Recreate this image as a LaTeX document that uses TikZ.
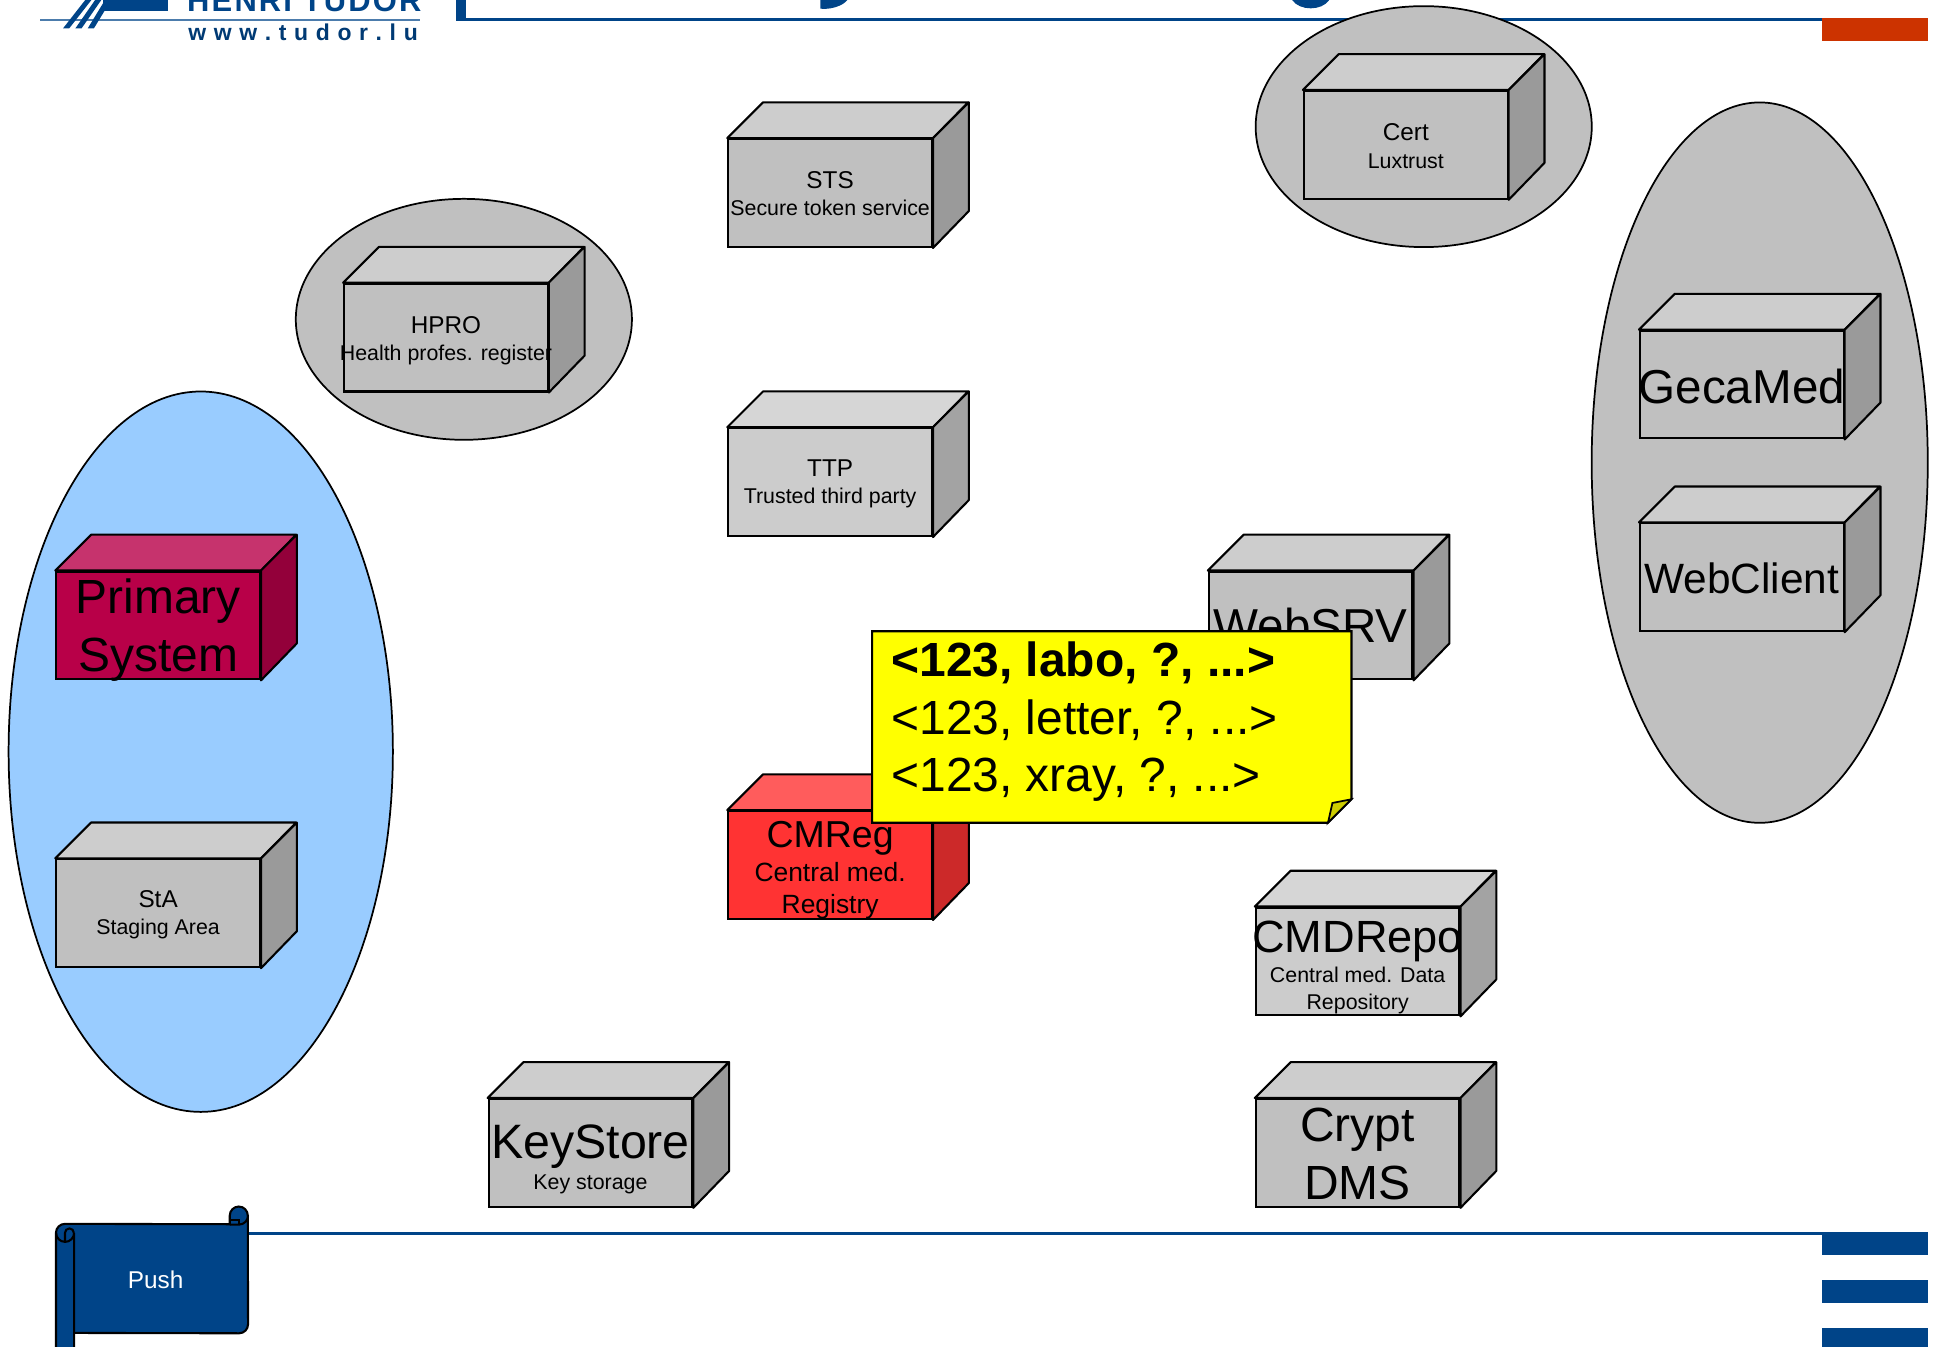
\documentclass[tikz,border=0pt]{standalone}
\usepackage{xcolor}
\usepackage{fontspec}
\setmainfont{Liberation Sans}
\newfontfamily\logowide[LetterSpace=7]{Liberation Sans}
\usetikzlibrary{calc,positioning,shapes.geometric}
\definecolor{navy}{HTML}{004488}
\definecolor{rust}{HTML}{CC3300}
\definecolor{greyarea}{HTML}{C0C0C0}
\definecolor{bluearea}{HTML}{99CCFF}
\definecolor{crategrey}{HTML}{C0C0C0}
\definecolor{crateplain}{HTML}{CCCCCC}
\definecolor{crateprimary}{HTML}{B80048}
\definecolor{cratered}{HTML}{FF3333}
\definecolor{notefill}{HTML}{FFFF00}
\definecolor{notefold}{HTML}{CCCC00}
\newcommand{\fs}[1]{\fontsize{#1}{8}\selectfont}
\newcommand{\tightlines}{\fontsize{10}{7.8}\selectfont\lineskiplimit=-100pt\relax}
\newcommand{\crate}[6]{
\node[cratefront,fill=#4] (#1) at (#2+83,#3+44.3) {};
\draw[cratefill,fill=#4!80!white] (#1.north west) -- ++(29,-29) -- ++(166,0) -- (#1.north east) -- cycle;
\draw[cratefill,fill=#4!80!black] (#1.north east) -- ++(29,-29) -- ++(0,88) -- (#1.south east) -- cycle;
\node[cratetext] (#1label) at ($(#1.center)+(0,#5)$) {#6};
}
\begin{document}
\begin{tikzpicture}[x=0.0125cm,y=-0.0125cm]
\tikzset{area/.style = {shape=ellipse,draw,line width=0.5pt,inner sep=0pt}}
\tikzset{cratefront/.style = {shape=rectangle,draw,line width=0.6pt,inner sep=0pt,minimum width=2.06cm,minimum height=1.09cm}}
\tikzset{cratefill/.style = {draw,line width=0.6pt,line join=round}}
\tikzset{cratetext/.style = {align=center,inner sep=0pt,font=\tightlines}}
\tikzset{frame/.style = {fill=navy}}
\useasboundingbox (0,0) rectangle (1568,1089.6);
\clip (0,0) rectangle (1568,1089.6);
% header
\fill[frame] (369,0) rectangle (377,17);
\fill[frame] (369,14.6) rectangle (1475,17);
\fill[rust] (1475,14.6) rectangle (1561,33);
\fill[frame] (664,0) .. controls (672,0) and (678,0) .. (686,0) .. controls (682,5) and (672,8) .. (664,7) -- cycle;
\fill[frame] (1046,0) -- (1076,0) .. controls (1070,9) and (1052,9) .. (1046,0) -- cycle;
% logo
\fill[navy!70!white] (32,15) rectangle (340,17);
\fill[navy] (83,0) rectangle (136,9);
\foreach \i in {0,1,2}
  \fill[navy] (69+\i*8,0) -- (74+\i*8,0) -- (56+\i*10,23) -- (51+\i*10,23) -- cycle;
\node[anchor=base west,inner sep=0pt,text=navy] (logoname) at (151,9) {\fs{8.9}\bfseries\logowide HENRI TUDOR};
\node[anchor=base west,inner sep=0pt,text=navy!85!black] (logourl) at (152,33) {\fs{6.6}\bfseries w\,\,w\,\,w\,\,.\,\,t\,\,u\,\,d\,\,o\,\,r\,\,.\,\,l\,\,u};
% footer
\fill[frame] (195,997) rectangle (1475,999.6);
\foreach \i/\j in {997/1016,1036/1055,1075/1090}
  \fill[frame] (1475,\i) rectangle (1561,\j);
\node[area,fill=bluearea,minimum width=3.8875cm,minimum height=7.2875cm] (staging) at (162.5,608.5) {};
\node[area,fill=greyarea,minimum width=3.4cm,minimum height=2.4375cm] (hproarea) at (375.5,258.5) {};
\node[area,fill=greyarea,minimum width=3.4cm,minimum height=2.4375cm] (certarea) at (1152.5,102.5) {};
\node[area,fill=greyarea,minimum width=3.4cm,minimum height=7.2875cm] (clients) at (1424.5,374.5) {};
\crate{sts}{589}{112}{crategrey}{0.5}{\fs{7}STS\\\fs{6.15}Secure token service}
\crate{hpro}{278}{229}{crategrey}{2.5}{\fs{7}HPRO\\\fs{6.15}Health profes. register}
\crate{cert}{1055}{73}{crategrey}{1}{\fs{7}Cert\\\fs{6.15}Luxtrust}
\crate{ttp}{589}{346}{crateplain}{1.5}{\fs{7}TTP\\\fs{6.15}Trusted third party}
\crate{primary}{45}{462}{crateprimary}{4}{\fs{13.8}Primary\\[8.9pt]\fs{13.8}System}
\crate{sta}{45}{695}{crategrey}{1.5}{\fs{7}StA\\\fs{6.15}Staging Area}
\crate{websrv}{978}{462}{crategrey}{0}{\fs{13.7}WebSRV}
\crate{cmreg}{589}{656}{cratered}{4}{\fs{10.8}CMReg\\[1.8pt]\fs{7.6}Central med.\\[1.4pt]\fs{7.6}Registry}
\crate{cmdrepo}{1016}{734}{crateplain}{5}{\fs{13}CMDRepo\\[0.7pt]\fs{6.15}Central med. Data\\\fs{6.15}Repository}
\crate{keystore}{395}{889}{crategrey}{5}{\fs{13.9}KeyStore\\[1.1pt]\fs{6.15}Key storage}
\crate{crypt}{1016}{889}{crategrey}{1}{\fs{13.8}Crypt\\[8.8pt]\fs{13.8}DMS}
\crate{gecamed}{1327}{267}{crategrey}{1.5}{\fs{13.7}GecaMed}
\crate{webclient}{1327}{423}{crategrey}{1}{\fs{12.2}WebClient}
% note
\draw[fill=notefill,line width=0.6pt] (706,511) -- (1094,511) -- (1094,647) -- (1075,666) -- (706,666) -- cycle;
\draw[fill=notefold,line width=0.5pt] (1094,647) -- (1078.6,650) -- (1075,666) -- cycle;
\node[anchor=north west,align=left,inner sep=0pt,font=\tightlines] (note) at (721,519) {\fs{13.8}\textbf{<123, labo, ?, ...>}\\[8.8pt]\fs{13.8}<123, letter, ?, ...>\\[8.8pt]\fs{13.8}<123, xray, ?, ...>};
% scroll
\draw[fill=navy,line width=0.6pt] (45.3,1100) -- (45.3,998) arc (180:270:7.3) -- (186,991) -- (186,984) arc (180:360:7.3) -- (200.8,1072) arc (0:90:7.3) -- (60,1079) -- (60,1100) -- cycle;
\draw[line width=0.6pt] (60,1079) -- (60,998) arc (0:180:7.3);
\draw[line width=0.6pt] (52.6,1005) -- (52.6,998) arc (180:360:3.6);
\draw[line width=0.6pt] (200.8,984) arc (0:90:7.3) -- (186,991.3);
\draw[line width=0.6pt] (186,987.5) -- (193.5,987.5) -- (193.5,991.3);
\node[text=white,inner sep=0pt] (push) at (126,1036) {\fs{7}Push};
\end{tikzpicture}
\end{document}
